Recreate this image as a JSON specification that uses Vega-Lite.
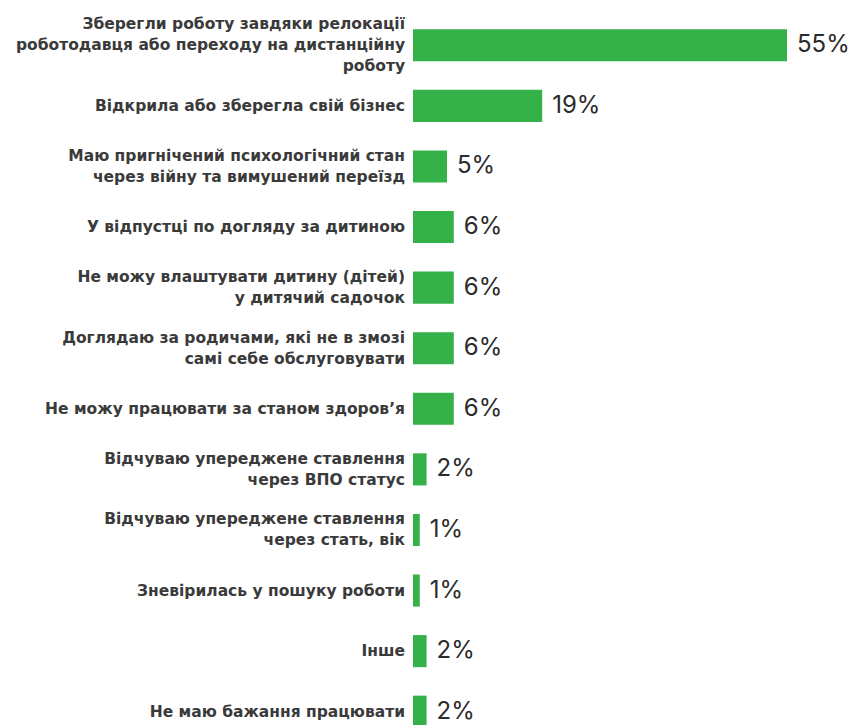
{
  "$schema": "https://vega.github.io/schema/vega-lite/v6.json",
  "autosize": {"type": "none"},
  "padding": {"left": 413, "top": 15, "right": 0, "bottom": 0},
  "width": 442,
  "height": 727,
  "background": "white",
  "config": {"view": {"stroke": null}},
  "data": {
    "values": [
      {"label": "Зберегли роботу завдяки релокації|роботодавця або переходу на дистанційну|роботу", "value": 55, "pct": "55%"},
      {"label": "Відкрила або зберегла свій бізнес", "value": 19, "pct": "19%"},
      {"label": "Маю пригнічений психологічний стан|через війну та вимушений переїзд", "value": 5, "pct": "5%"},
      {"label": "У відпустці по догляду за дитиною", "value": 6, "pct": "6%"},
      {"label": "Не можу влаштувати дитину (дітей)|у дитячий садочок", "value": 6, "pct": "6%"},
      {"label": "Доглядаю за родичами, які не в змозі|самі себе обслуговувати", "value": 6, "pct": "6%"},
      {"label": "Не можу працювати за станом здоров’я", "value": 6, "pct": "6%"},
      {"label": "Відчуваю упереджене ставлення|через ВПО статус", "value": 2, "pct": "2%"},
      {"label": "Відчуваю упереджене ставлення|через стать, вік", "value": 1, "pct": "1%"},
      {"label": "Зневірилась у пошуку роботи", "value": 1, "pct": "1%"},
      {"label": "Інше", "value": 2, "pct": "2%"},
      {"label": "Не маю бажання працювати", "value": 2, "pct": "2%"}
    ]
  },
  "encoding": {
    "y": {
      "field": "label",
      "type": "nominal",
      "sort": null,
      "scale": {"paddingInner": 0.47, "paddingOuter": 0.235},
      "axis": null
    }
  },
  "layer": [
    {
      "mark": {"type": "bar", "color": "#35b14a"},
      "encoding": {
        "x": {"field": "value", "type": "quantitative", "scale": {"domain": [0, 65]}, "axis": null}
      }
    },
    {
      "mark": {"type": "text", "align": "left", "baseline": "middle", "dx": 10, "font": "Inter", "fontSize": 24, "fontWeight": 400, "color": "#2b2b2b"},
      "encoding": {
        "x": {"field": "value", "type": "quantitative"},
        "text": {"field": "pct", "type": "nominal"}
      }
    },
    {
      "mark": {"type": "text", "align": "right", "baseline": "middle", "dx": -8, "dy": {"expr": "-(length(split(datum.label, '|')) - 1) * 10.5"}, "lineBreak": "|", "lineHeight": 21, "font": "DejaVu Sans", "fontSize": 15.5, "fontWeight": "bold", "color": "#3a3a3a"},
      "encoding": {
        "x": {"datum": 0, "type": "quantitative"},
        "text": {"field": "label", "type": "nominal"}
      }
    }
  ]
}
